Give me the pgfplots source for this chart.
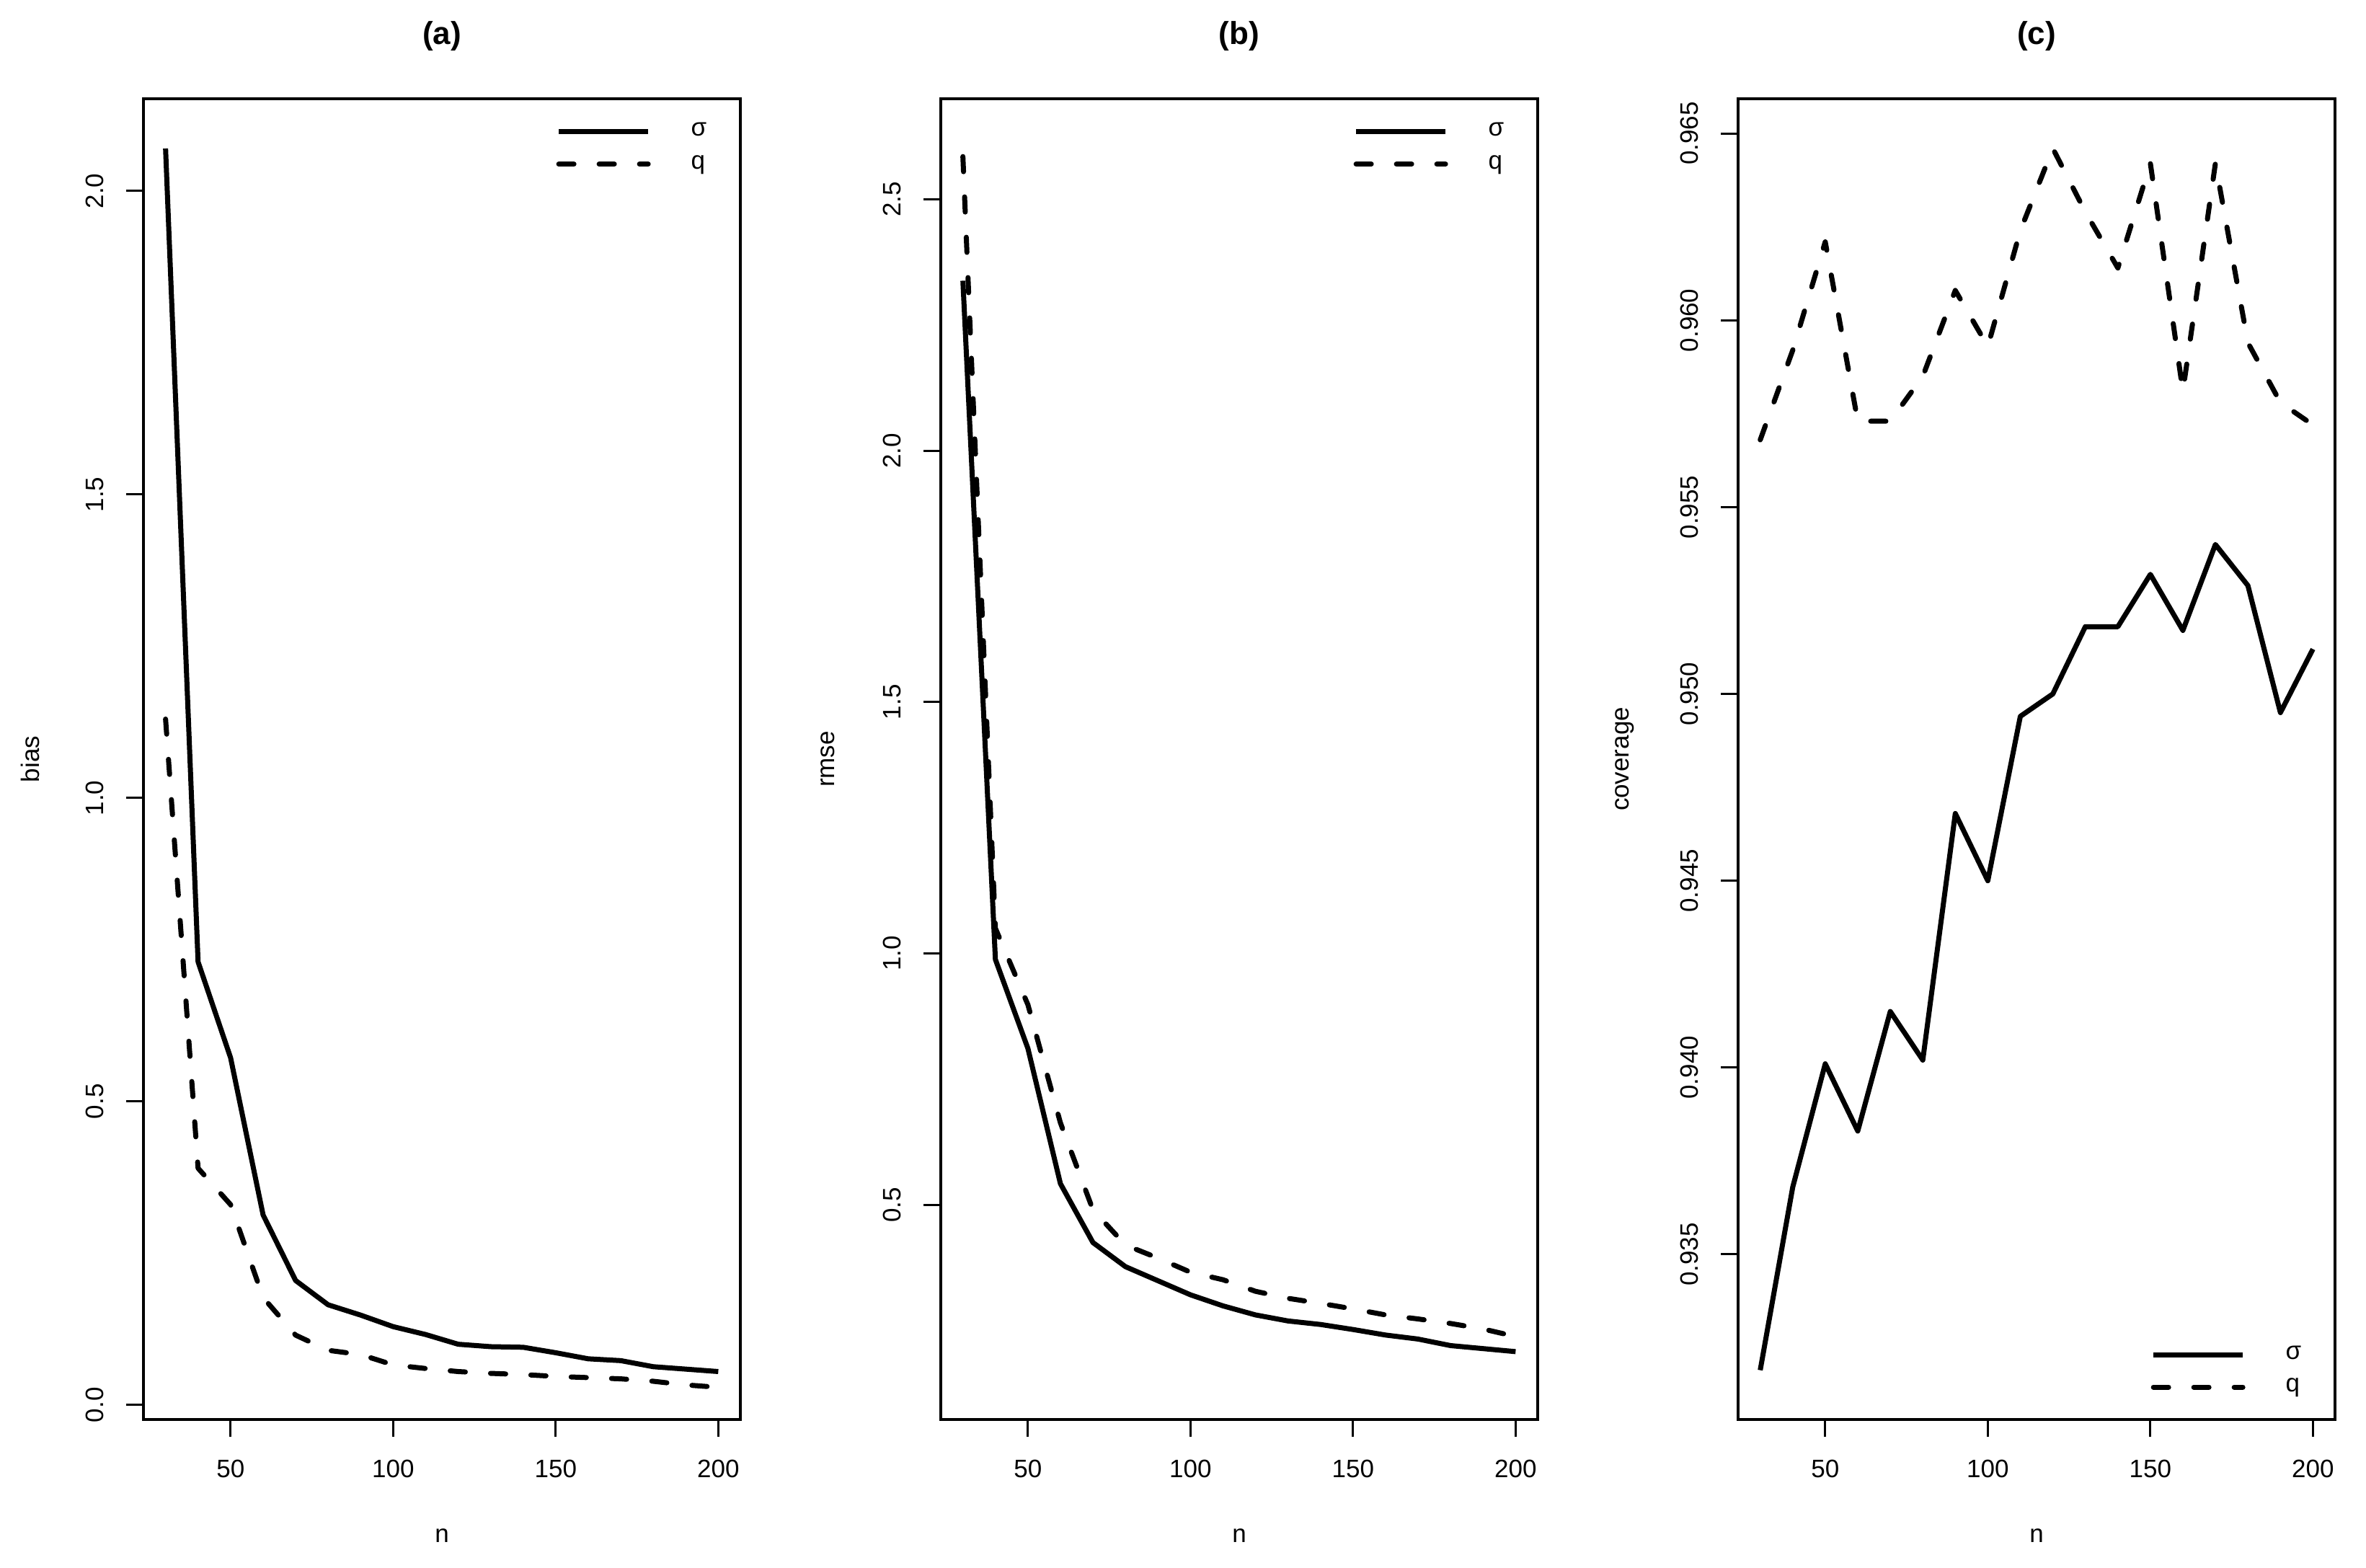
\documentclass[border=0pt]{standalone}
\usepackage{fontspec}
\setmainfont{Liberation Sans}
\usepackage{pgfplots}
\pgfplotsset{compat=1.18}

\pgfplotsset{
  rpanel/.style={
    scale only axis, width=207pt, height=458pt,
    xmin=23.2, xmax=206.8,
    xtick={50,100,150,200},
    tick align=outside, xtick pos=bottom, ytick pos=left,
    major tick length=6pt,
    every tick/.style={line width=0.75pt, black},
    axis line style={line width=0.8pt},
    tick label style={font=\fontsize{8.75}{10}\selectfont},
    /pgf/number format/assume math mode=true,
    scaled y ticks=false,
    xticklabel style={anchor=north, inner sep=0pt},
    yticklabel style={rotate=90, anchor=south, inner sep=0pt},
    xticklabel shift=7.9pt,
    yticklabel shift=7.6pt,
    xlabel={n},
    every axis x label/.style={at={(axis description cs:0.5,0)}, yshift=-40.25pt, anchor=center, font=\fontsize{8.75}{10}\selectfont},
    every axis y label/.style={at={(axis description cs:0,0.5)}, xshift=-39.25pt, rotate=90, anchor=center, font=\fontsize{8.75}{10}\selectfont},
    every axis title/.style={at={(axis description cs:0.5,1)}, yshift=21.75pt, anchor=center, font=\bfseries\fontsize{11}{13}\selectfont},
    legend cell align=left,
    legend image code/.code={\draw[#1] (0pt,0pt) -- (31pt,0pt);},
    legend style={draw=none, fill=none, inner sep=0pt, row sep=0pt, column sep=14pt,
      nodes={inner sep=0pt, minimum height=11.25pt, font=\fontsize{8.75}{10}\selectfont}},
  },
  legtop/.style={legend style={at={(axis description cs:1,1)}, anchor=north east, xshift=-11.5pt, yshift=-5.6pt}},
  legbot/.style={legend style={at={(axis description cs:1,0)}, anchor=south east, xshift=-11.5pt, yshift=5.4pt}},
  sig/.style={black, line width=1.75pt, line join=round},
  qq/.style={black, line width=1.75pt, line join=round, line cap=round, dash pattern=on 5.25pt off 8.75pt},
}

\begin{document}
\begin{tikzpicture}
\path[use as bounding box] (-49.75pt,-51.25pt) rectangle (770.75pt,492.25pt);

% (a) bias
\begin{axis}[rpanel, legtop, at={(0pt,0pt)},
  title={(a)}, ylabel={bias},
  ymin=-0.024, ymax=2.152, ytick={0,0.5,1,1.5,2},
  yticklabel style={/pgf/number format/.cd, fixed, fixed zerofill, precision=1}]
\addplot[sig] coordinates {(30,2.07) (40,0.73) (50,0.572) (60,0.313) (70,0.205) (80,0.165) (90,0.148) (100,0.129) (110,0.116) (120,0.100) (130,0.096) (140,0.095) (150,0.086) (160,0.076) (170,0.073) (180,0.063) (190,0.059) (200,0.055)};
\addlegendentry{σ}
\addplot[qq] coordinates {(30,1.13) (40,0.39) (50,0.33) (60,0.177) (70,0.115) (80,0.09) (90,0.083) (100,0.066) (110,0.06) (120,0.055) (130,0.052) (140,0.05) (150,0.047) (160,0.045) (170,0.043) (180,0.039) (190,0.033) (200,0.029)};
\addlegendentry{q}
\end{axis}

% (b) rmse
\begin{axis}[rpanel, legtop, at={(276.5pt,0pt)},
  title={(b)}, ylabel={rmse},
  ymin=0.073, ymax=2.70, ytick={0.5,1,1.5,2,2.5},
  yticklabel style={/pgf/number format/.cd, fixed, fixed zerofill, precision=1}]
\addplot[sig] coordinates {(30,2.338) (40,0.988) (50,0.811) (60,0.542) (70,0.425) (80,0.377) (90,0.349) (100,0.321) (110,0.299) (120,0.281) (130,0.269) (140,0.262) (150,0.252) (160,0.241) (170,0.233) (180,0.220) (190,0.214) (200,0.208)};
\addlegendentry{σ}
\addplot[qq] coordinates {(30,2.585) (40,1.05) (50,0.898) (60,0.663) (70,0.49) (80,0.42) (90,0.394) (100,0.366) (110,0.351) (120,0.328) (130,0.314) (140,0.304) (150,0.293) (160,0.281) (170,0.273) (180,0.264) (190,0.253) (200,0.238)};
\addlegendentry{q}
\end{axis}

% (c) coverage
\begin{axis}[rpanel, legbot, at={(553pt,0pt)},
  title={(c)}, ylabel={coverage},
  ymin=0.93058, ymax=0.96593, ytick={0.935,0.94,0.945,0.95,0.955,0.96,0.965},
  yticklabel style={/pgf/number format/.cd, fixed, fixed zerofill, precision=3}]
\addplot[sig] coordinates {(30,0.9319) (40,0.9368) (50,0.9401) (60,0.9383) (70,0.9415) (80,0.9402) (90,0.9468) (100,0.9450) (110,0.9494) (120,0.9500) (130,0.9518) (140,0.9518) (150,0.9532) (160,0.9517) (170,0.9540) (180,0.9529) (190,0.9495) (200,0.9512)};
\addlegendentry{σ}
\addplot[qq] coordinates {(30,0.9568) (40,0.9592) (50,0.9621) (60,0.9573) (70,0.9573) (80,0.9585) (90,0.9608) (100,0.9593) (110,0.9624) (120,0.9646) (130,0.9629) (140,0.9614) (150,0.9642) (160,0.9581) (170,0.9642) (180,0.9594) (190,0.9578) (200,0.9572)};
\addlegendentry{q}
\end{axis}
\end{tikzpicture}
\end{document}
